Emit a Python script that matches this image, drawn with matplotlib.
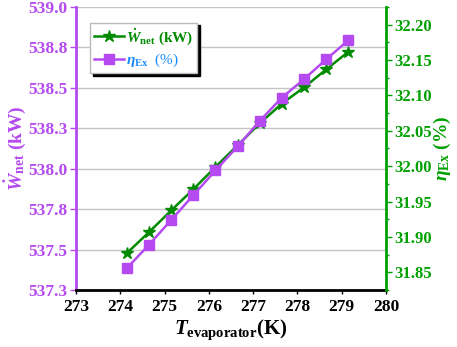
import matplotlib.pyplot as plt
from matplotlib.ticker import FuncFormatter, MultipleLocator

# data
t_evap = [274.15, 274.65, 275.15, 275.65, 276.15, 276.65, 277.15, 277.65, 278.15, 278.65, 279.15]
w_net = [537.478, 537.608, 537.742, 537.873, 538.011, 538.145, 538.280, 538.403, 538.503, 538.614, 538.723]
eta_ex = [31.856, 31.889, 31.924, 31.959, 31.994, 32.028, 32.064, 32.097, 32.123, 32.151, 32.178]

purple = '#b44af0'
green = '#008a00'
axis_green = '#00a000'

plt.rcParams['font.family'] = 'Liberation Serif'
plt.rcParams['font.weight'] = 'bold'
plt.rcParams['axes.labelweight'] = 'bold'
plt.rcParams['mathtext.fontset'] = 'custom'
plt.rcParams['mathtext.rm'] = 'Liberation Serif:bold'
plt.rcParams['mathtext.it'] = 'Liberation Serif:bold:italic'
plt.rcParams['mathtext.bf'] = 'Liberation Serif:bold'

fig = plt.figure(figsize=(4.57, 3.47), dpi=100)
ax1 = fig.add_axes([0.1663, 0.1643, 0.6783, 0.8155])
ax2 = ax1.twinx()

l1, = ax1.plot(t_evap, w_net, color=green, lw=1.8, marker='*', markersize=9,
               label=r'$\dot{W}_{\mathrm{net}}$ (kW)')
l2, = ax2.plot(t_evap, eta_ex, color=purple, lw=1.8, marker='s', markersize=6.5,
               label=r'$\eta_{\mathrm{Ex}}$  (%)')

ax1.set_xlim(273, 280)
ax1.set_ylim(537.25, 539.0)
ax2.set_ylim(31.825, 32.225)
ax1.xaxis.set_major_locator(MultipleLocator(1))
ax1.yaxis.set_major_locator(MultipleLocator(0.25))
# excel-style rounding (538.25 -> 538.3)
ax1.yaxis.set_major_formatter(FuncFormatter(lambda v, p: '%.1f' % (v + 1e-6)))
ax2.yaxis.set_major_locator(MultipleLocator(0.05))
ax2.yaxis.set_minor_locator(MultipleLocator(0.025))
ax2.yaxis.set_major_formatter(FuncFormatter(lambda v, p: '%.2f' % (v + 1e-6)))

ax1.grid(axis='y', color='#c4c4c4', lw=1)
ax1.set_axisbelow(True)

for ax in (ax1, ax2):
    ax.spines['top'].set_visible(False)
ax2.spines['left'].set_visible(False)
ax2.spines['bottom'].set_visible(False)
ax1.spines['right'].set_visible(False)
ax1.spines['left'].set_color(purple)
ax1.spines['left'].set_linewidth(2)
ax1.spines['bottom'].set_color('black')
ax1.spines['bottom'].set_linewidth(2)
ax2.spines['right'].set_color(axis_green)
ax2.spines['right'].set_linewidth(2)

ax1.tick_params(axis='x', labelsize=12.5, colors='black', length=3, width=1)
ax1.tick_params(axis='y', labelsize=12.5, colors=purple, length=4, width=1, pad=2)
ax2.tick_params(axis='y', which='both', labelsize=12, colors=axis_green, width=1, pad=2)
ax2.tick_params(axis='y', which='major', length=4)
ax2.tick_params(axis='y', which='minor', length=2)

ax1.set_xlabel(r'$\mathit{T}_{\mathrm{evaporator}}$(K)', fontsize=15, labelpad=2)
ax1.set_ylabel(r'$\dot{\mathit{W}}_{\mathrm{net}}$ (kW)', fontsize=14, color=purple, labelpad=0)
ax2.set_ylabel(r'$\mathit{\eta}_{\mathrm{Ex}}$ (%)', fontsize=14, color=axis_green, labelpad=0)

leg = ax2.legend(handles=[l1, l2], loc='upper left', bbox_to_anchor=(0.045, 0.945),
                 fontsize=11, frameon=True, fancybox=False, shadow={'color': 'black', 'alpha': 1},
                 edgecolor='#bbbbbb', handlelength=2.0, handletextpad=0.1, borderpad=0.25,
                 labelspacing=0.35, borderaxespad=0)
leg.get_texts()[0].set_color(green)
leg.get_texts()[1].set_color('#1a8cff')
leg.get_texts()[1].set_fontweight('normal')

fig.savefig('out.png', dpi=100)
